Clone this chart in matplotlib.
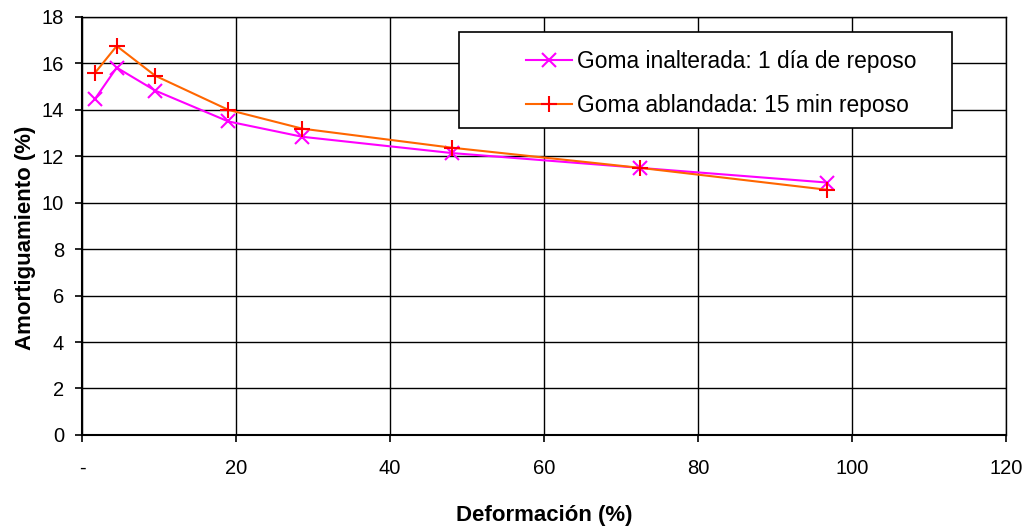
import matplotlib.pyplot as plt
from matplotlib.patches import Rectangle

plt.rcParams['font.family'] = ['Liberation Sans', 'DejaVu Sans']

# deformación (%) y amortiguamiento (%) de cada ensayo
deformacion = [1.7, 4.5, 9.5, 19.0, 28.6, 48.0, 72.5, 96.7]
amort_inalterada = [14.48, 15.82, 14.83, 13.5, 12.84, 12.14, 11.5, 10.87]
amort_ablandada = [15.6, 16.75, 15.47, 14.0, 13.19, 12.37, 11.5, 10.56]

x_ticks = [0, 20, 40, 60, 80, 100, 120]
x_tick_labels = ['-', '20', '40', '60', '80', '100', '120']
y_ticks = [0, 2, 4, 6, 8, 10, 12, 14, 16, 18]


def main():
    fig = plt.figure(figsize=(10.32, 5.31), dpi=100)
    ax = fig.add_axes([0.0795, 0.181, 0.8955, 0.787])

    ax.plot(deformacion, amort_inalterada, color='#FF00FF', lw=1.5,
            marker='x', ms=10, mew=1.5, mec='#FF00FF',
            label='Goma inalterada: 1 día de reposo', zorder=3)
    ax.plot(deformacion, amort_ablandada, color='#FF6600', lw=1.5,
            marker='+', ms=12, mew=1.5, mec='#FF0000',
            label='Goma ablandada: 15 min reposo', zorder=3)

    ax.set_xlim(0, 120)
    ax.set_ylim(0, 18)
    ax.set_xticks(x_ticks)
    ax.set_xticklabels(x_tick_labels)
    ax.set_yticks(y_ticks)
    ax.grid(True, color='black', lw=1)
    ax.set_axisbelow(True)
    for s in ax.spines.values():
        s.set_color('black')
        s.set_linewidth(1)
    ax.spines['left'].set_linewidth(1.5)
    ax.spines['bottom'].set_linewidth(1.5)
    ax.tick_params(direction='out', length=5, width=1.2, labelsize=14.5,
                   colors='black', pad=8)
    ax.tick_params(axis='x', pad=12)

    ax.set_xlabel('Deformación (%)', fontsize=16, fontweight='bold', labelpad=20)
    ax.set_ylabel('Amortiguamiento (%)', fontsize=16, fontweight='bold')
    ax.yaxis.set_label_coords(-0.050, 0.4725)

    # caja de la leyenda, más holgada que la de matplotlib
    box = Rectangle((0.408, 0.7344), 0.5336, 0.2296, transform=ax.transAxes,
                    facecolor='white', edgecolor='black', lw=1.2, zorder=5)
    ax.add_patch(box)
    leg = ax.legend(loc='upper left', bbox_to_anchor=(0.4805, 0.921),
                    fontsize=16.4, frameon=False,
                    handlelength=2.0, borderpad=0, labelspacing=0.93,
                    handletextpad=0.25, borderaxespad=0)
    leg.set_zorder(6)

    fig.savefig('out.png', dpi=100)


if __name__ == '__main__':
    main()
